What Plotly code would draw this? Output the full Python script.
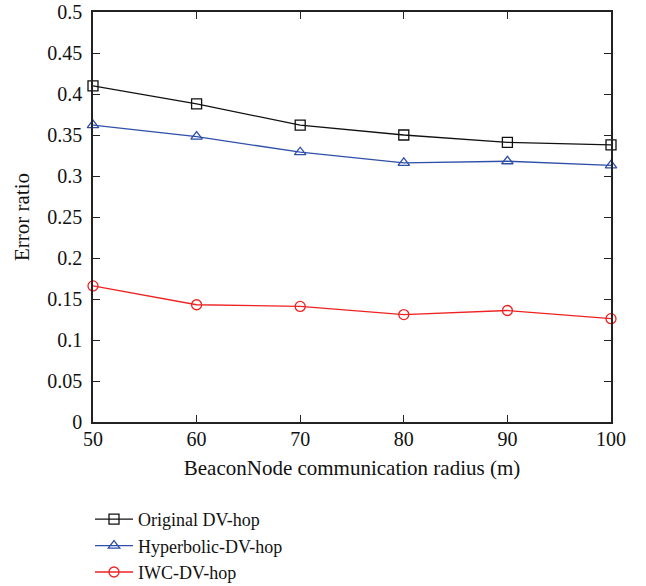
import plotly.graph_objects as go

radius = [50, 60, 70, 80, 90, 100]
original_dv_hop = [0.410, 0.388, 0.362, 0.350, 0.341, 0.338]
hyperbolic_dv_hop = [0.362, 0.348, 0.329, 0.316, 0.318, 0.313]
iwc_dv_hop = [0.166, 0.143, 0.141, 0.131, 0.136, 0.126]

series = [
    ("Original DV-hop", original_dv_hop, "#111111", "square-open"),
    ("Hyperbolic-DV-hop", hyperbolic_dv_hop, "#2F4FA8", "triangle-up-open"),
    ("IWC-DV-hop", iwc_dv_hop, "#EE2222", "circle-open"),
]

font_family = "Liberation Serif"

fig = go.Figure()
for name, values, color, symbol in series:
    fig.add_trace(go.Scatter(
        x=radius, y=values, name=name, mode="lines+markers",
        line=dict(color=color, width=1.3),
        marker=dict(symbol=symbol, size=10, color=color,
                    line=dict(color=color, width=1.3)),
        cliponaxis=False,
    ))

axis_common = dict(
    showline=True, linecolor="#222222", linewidth=1.5, mirror="ticks",
    ticks="inside", ticklen=7, tickcolor="#222222", tickwidth=1.3,
    showgrid=False, zeroline=False, automargin=False,
    tickfont=dict(family=font_family, size=20, color="#111111"),
)

plot_h = 586 - 12 - 164

fig.update_layout(
    width=646, height=586,
    margin=dict(l=93, r=35, t=12, b=164, autoexpand=False),
    plot_bgcolor="white", paper_bgcolor="white",
    font=dict(family=font_family, color="#111111"),
    xaxis=dict(range=[50, 100], tickvals=[50, 60, 70, 80, 90, 100],
               ticklabelstandoff=-2,
               title=dict(text="BeaconNode communication radius (m)",
                          font=dict(family=font_family, size=21), standoff=12),
               **axis_common),
    yaxis=dict(range=[0, 0.5],
               tickvals=[0, 0.05, 0.1, 0.15, 0.2, 0.25, 0.3, 0.35, 0.4, 0.45, 0.5],
               ticktext=["0", "0.05", "0.1", "0.15", "0.2", "0.25", "0.3",
                         "0.35", "0.4", "0.45", "0.5"],
               ticklabelstandoff=5,
               title=dict(text="Error ratio",
                          font=dict(family=font_family, size=21), standoff=12),
               **axis_common),
    legend=dict(x=-3 / 518, y=-(501 - 422) / plot_h,
                xanchor="left", yanchor="top",
                font=dict(family=font_family, size=18, color="#111111"),
                bgcolor="rgba(0,0,0,0)", tracegroupgap=0, itemwidth=38),
    showlegend=True,
)

fig.write_html("out.html")
